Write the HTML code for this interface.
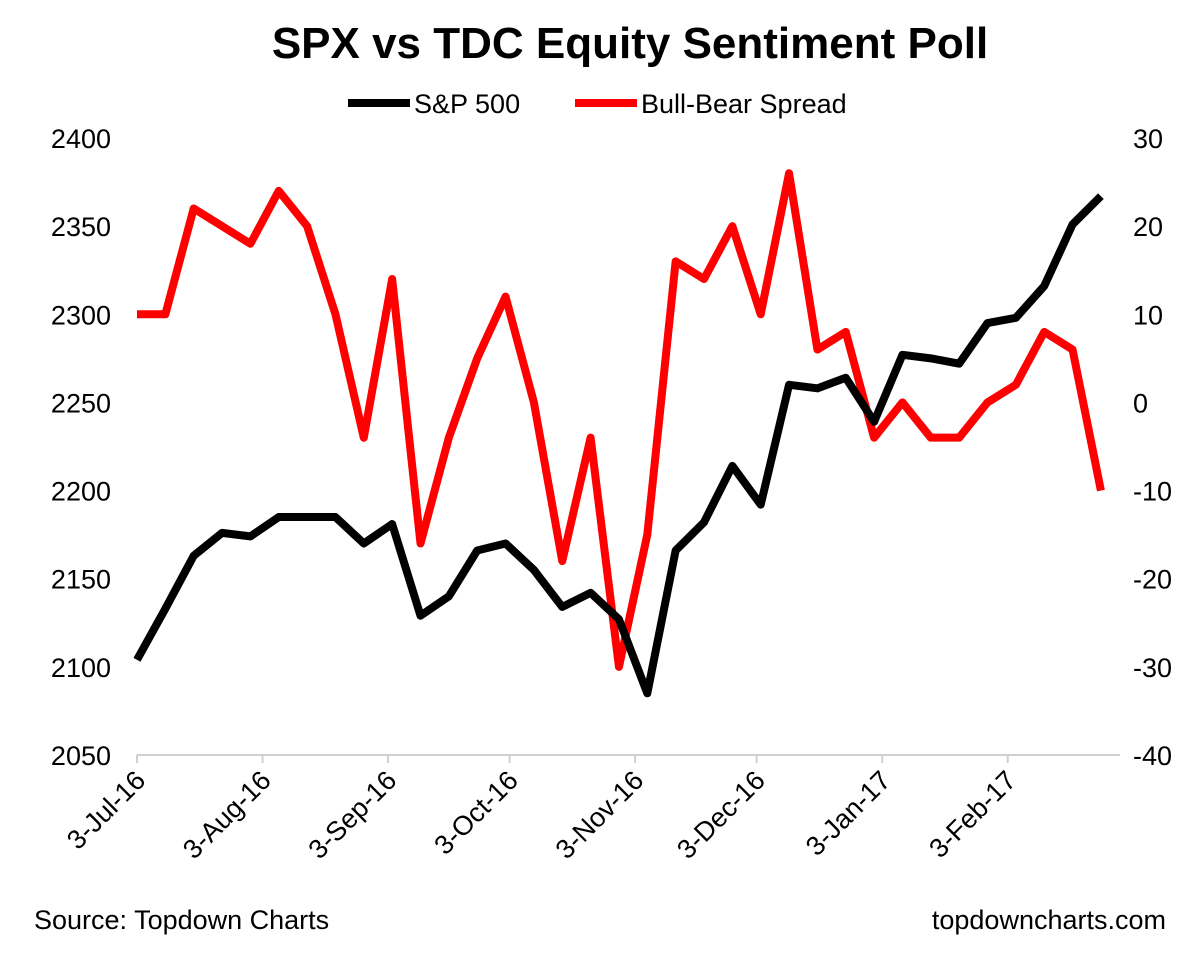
<!DOCTYPE html>
<html><head><meta charset="utf-8"><style>
body{margin:0;background:#fff;}
svg{display:block;font-family:"Liberation Sans",Arial,sans-serif;}
</style></head><body>
<svg id="chart" width="1200" height="955" viewBox="0 0 1200 955">
<text x="630" y="58" text-anchor="middle" font-size="44" font-weight="bold">SPX vs TDC Equity Sentiment Poll</text>
<g>
<g><line x1="348" y1="103" x2="410" y2="103" stroke="#000" stroke-width="8"/><text x="414" y="113" font-size="27">S&amp;P 500</text></g>
<g><line x1="575" y1="103" x2="637" y2="103" stroke="#f00" stroke-width="8"/><text x="641" y="113" font-size="27">Bull-Bear Spread</text></g>
</g>
<g id="axes"></g>
<g id="series"></g>
<text x="34" y="929" font-size="27">Source: Topdown Charts</text>
<text x="1166" y="929" font-size="27" text-anchor="end">topdowncharts.com</text>
</svg>
<script>
const spxValues=[2104,2133,2163,2176,2174,2185,2185,2185,2170,2181,2129,2140,2166,2170,2155,2134,2142,2127,2085,2166,2182,2214,2192,2260,2258,2264,2239,2277,2275,2272,2295,2298,2316,2351,2367];
const spreadValues=[10,10,22,20,18,24,20,10,-4,14,-16,-4,5,12,0,-18,-4,-30,-15,16,14,20,10,26,6,8,-4,0,-4,-4,0,2,8,6,-10];
const leftTicks=[2050,2100,2150,2200,2250,2300,2350,2400];
const rightTicks=[-40,-30,-20,-10,0,10,20,30];
const dateLabels=["3-Jul-16","3-Aug-16","3-Sep-16","3-Oct-16","3-Nov-16","3-Dec-16","3-Jan-17","3-Feb-17"];
const dateLabelDays=[0,31,62,92,123,153,184,215];
const NS="http://www.w3.org/2000/svg";
const X0=137,PX_PER_DAY=4.05,YT=138,YB=755;
const xDay=d=>X0+d*PX_PER_DAY;
const xIdx=i=>xDay(i*7);
const yL=v=>YB-(v-2050)/(2400-2050)*(YB-YT);
const yR=v=>YB-(v+40)/70*(YB-YT);
function mk(tag,attrs,parent){const e=document.createElementNS(NS,tag);for(const k in attrs)e.setAttribute(k,attrs[k]);parent.appendChild(e);return e;}
const axes=document.getElementById('axes'),series=document.getElementById('series');
const xa=mk('line',{x1:X0,y1:YB,x2:1120,y2:YB,stroke:'#d0d0d0','stroke-width':2},axes);


leftTicks.forEach(v=>{const t=mk('text',{x:111,y:yL(v)+10,'text-anchor':'end','font-size':27},axes);t.textContent=v;

});
rightTicks.forEach(v=>{const t=mk('text',{x:1133,y:yR(v)+10,'font-size':27},axes);t.textContent=v;

});
dateLabels.forEach((lab,i)=>{const x=xDay(dateLabelDays[i]);
const tk=mk('line',{x1:x,y1:YB,x2:x,y2:YB+8,stroke:'#d0d0d0','stroke-width':2},axes);


const t=mk('text',{x:x+10,y:YB+27,'text-anchor':'end','font-size':27,transform:`rotate(-45 ${x+10} ${YB+27})`},axes);t.textContent=lab;

});
const sp=mk('polyline',{points:spreadValues.map((v,i)=>xIdx(i)+','+yR(v)).join(' '),fill:'none',stroke:'#f00','stroke-width':8,'stroke-linejoin':'round'},series);


const sx=mk('polyline',{points:spxValues.map((v,i)=>xIdx(i)+','+yL(v)).join(' '),fill:'none',stroke:'#000','stroke-width':8,'stroke-linejoin':'round'},series);


</script>
</body></html>
